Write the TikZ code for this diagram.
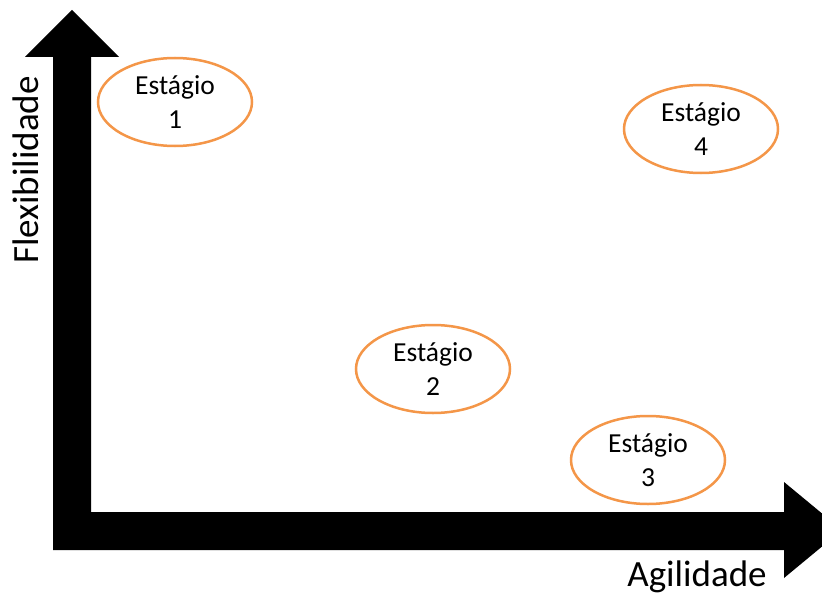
\documentclass[tikz,border=0pt]{standalone}
\usepackage{fontspec}
\setmainfont{Carlito}
\usetikzlibrary{shapes.geometric}
\definecolor{stageorange}{RGB}{244,150,72}
\tikzset{
  stage/.style={ellipse, draw=stageorange, line width=2.5pt, minimum width=154pt, minimum height=88pt, inner sep=0pt, align=center, font=\fontsize{27.5}{34}\selectfont},
  axislabel/.style={font=\fontsize{37}{42}\selectfont, anchor=base, inner sep=0pt}
}
\begin{document}
\begin{tikzpicture}[x=1pt,y=-1pt]
\useasboundingbox (0,0) rectangle (822,594);
\fill[white] (0,0) rectangle (822,594);
% axes as one L-shaped double arrow
\fill[black] (72,10) -- (119,57) -- (91,57) -- (91,512) -- (784,512) -- (784,482)
  -- (842,530) -- (784,578) -- (784,550) -- (53,550) -- (53,57) -- (25,57) -- cycle;
\node[axislabel, rotate=90] (flex) at (38,170) {Flexibilidade};
\node[axislabel] (agil) at (697,586) {Agilidade};
\node[stage] (s1) at (175,102) {Estágio\\1};
\node[stage] (s4) at (701,129) {Estágio\\4};
\node[stage] (s2) at (433,369) {Estágio\\2};
\node[stage] (s3) at (648,460) {Estágio\\3};
\end{tikzpicture}
\end{document}
